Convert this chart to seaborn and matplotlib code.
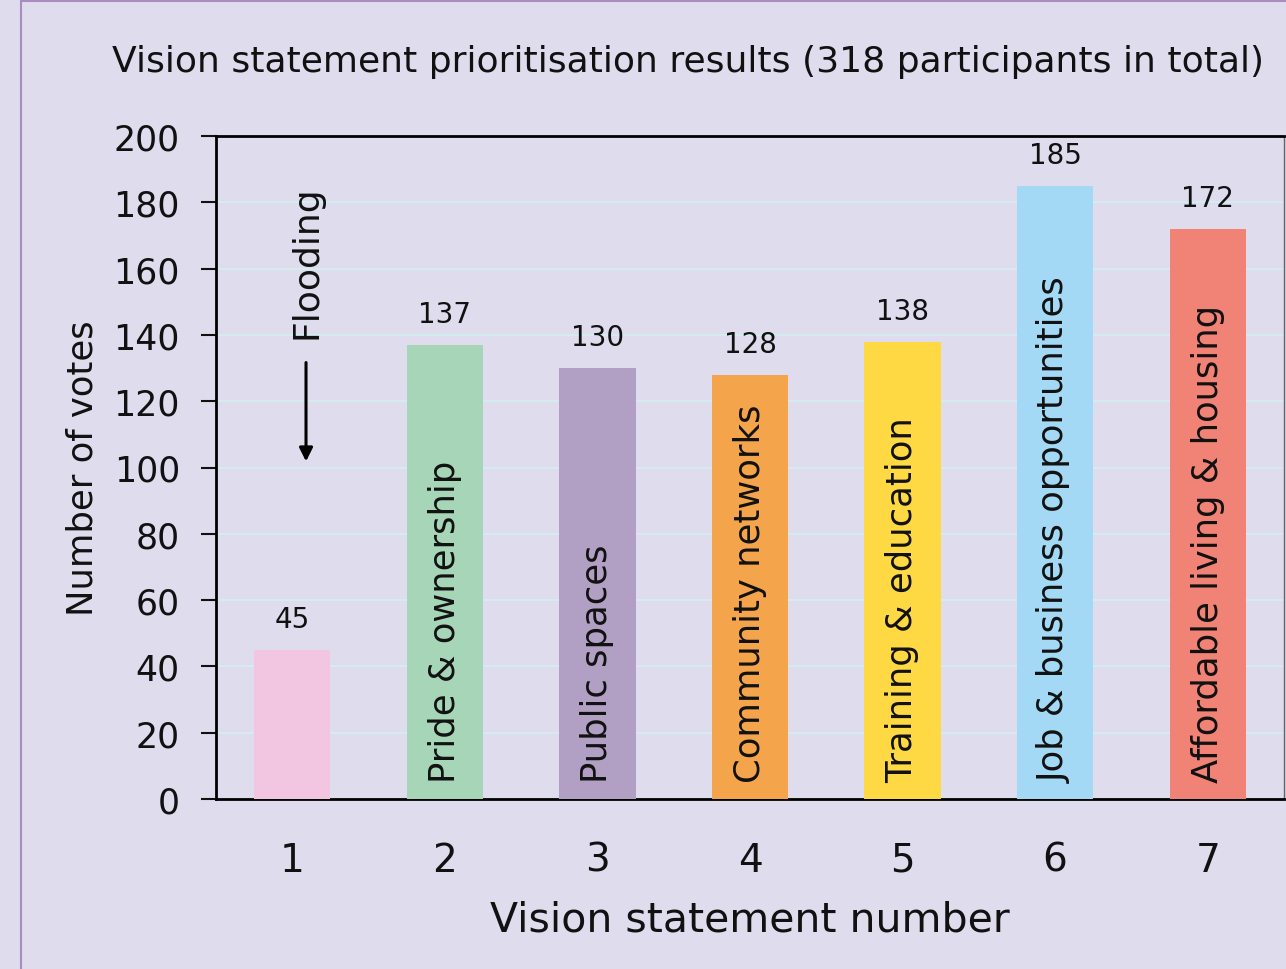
import matplotlib
matplotlib.use("Agg")
import matplotlib.pyplot as plt
import matplotlib.patches as mpatches
import seaborn as sns
import pandas as pd

# ── data ────────────────────────────────────────────────────
statement_numbers = ["1", "2", "3", "4", "5", "6", "7"]
votes = [45, 137, 130, 128, 138, 185, 172]
statement_names = ["", "Pride & ownership", "Public spaces", "Community networks",
                   "Training & education", "Job & business opportunities",
                   "Affordable living & housing"]
bar_colors = ["#f2c6e0", "#a6d5b8", "#b29fc4", "#f4a54b", "#fed944", "#a3d9f5", "#f08375"]

BG = "#dfdcee"
INK = "#111111"
FONT = ["DejaVu Sans"]

df = pd.DataFrame({"number": statement_numbers, "votes": votes})

sns.set_theme(style="white")
plt.rcParams["font.family"] = FONT
plt.rcParams["text.color"] = INK
plt.rcParams["axes.labelcolor"] = INK
plt.rcParams["xtick.color"] = INK
plt.rcParams["ytick.color"] = INK

fig = plt.figure(figsize=(12.86, 9.7), dpi=100, facecolor=BG)
ax = fig.add_axes([216 / 1286, 170 / 970, 1068 / 1286, 663 / 970])
ax.set_facecolor(BG)

# outer purple frame (left and top edges visible)
fig.patches.append(mpatches.Rectangle((21 / 1286, -0.2), 1.5, 1.2 - 2 / 970,
                                      transform=fig.transFigure, fill=False,
                                      edgecolor="#a98dc0", linewidth=1.5, zorder=0))

sns.barplot(data=df, x="number", y="votes", hue="number", palette=bar_colors,
            legend=False, width=0.5, saturation=1, linewidth=0, ax=ax, zorder=3)

ax.set_ylim(0, 200)
ax.set_xlim(-0.5, 6.5)
ax.set_yticks(range(0, 201, 20))
ax.yaxis.grid(True, color="#d4ecee", linewidth=1.5, zorder=0)
ax.set_axisbelow(True)

# value labels above bars
for i, v in enumerate(votes):
    ax.text(i, v + 5, str(v), ha="center", va="bottom", fontsize=20)

# names written inside the bars
for i, name in enumerate(statement_names):
    if name:
        ax.text(i, 5, name, rotation=90, ha="center", va="bottom",
                fontsize=25.5, zorder=4)

# flooding annotation
ax.text(0.09, 185.5, "Flooding", rotation=90, ha="center", va="top", fontsize=26)
ax.annotate("", xy=(0.09, 101), xytext=(0.09, 132.5),
            arrowprops=dict(arrowstyle="-|>", color="black", lw=2.2, mutation_scale=20))

ax.set_title("Vision statement prioritisation results (318 participants in total)",
             fontsize=26, pad=47, loc="center", x=0.442)
ax.set_xlabel("Vision statement number", fontsize=29.5, labelpad=15)
ax.set_ylabel("Number of votes", fontsize=25.5, labelpad=10)
ax.tick_params(axis="y", length=11, width=1.5, labelsize=25, pad=15, left=True)
ax.tick_params(axis="x", length=0, labelsize=28, pad=30)

for side in ["left", "bottom", "top"]:
    ax.spines[side].set_color("black")
    ax.spines[side].set_linewidth(2)
ax.spines["right"].set_color("#666666")
ax.spines["right"].set_linewidth(1)

fig.savefig("out.png", dpi=100, facecolor=BG)
